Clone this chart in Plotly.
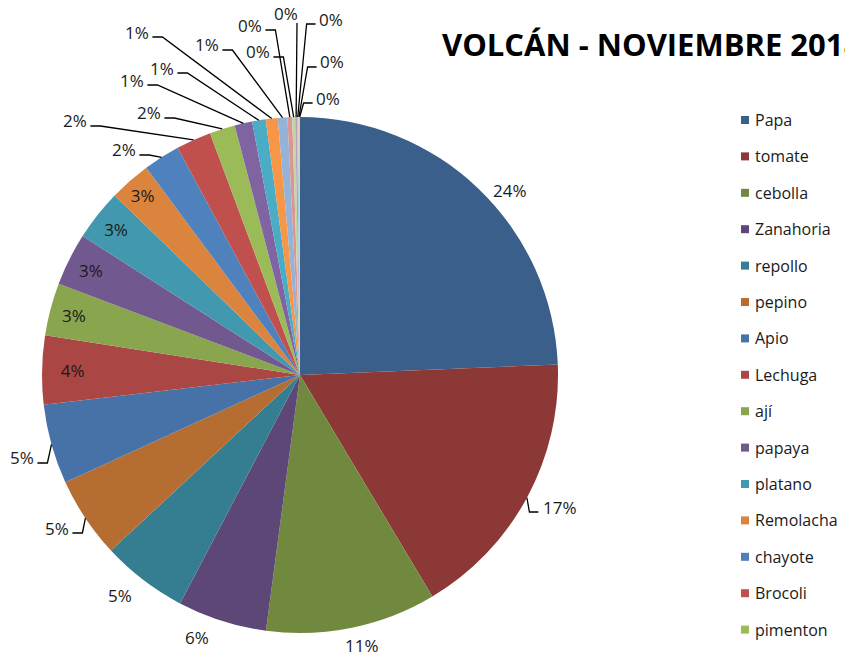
import math
import plotly.graph_objects as go

# Slices in drawing order (clockwise from 12 o'clock), share in percent
labels = ['Papa', 'tomate', 'cebolla', 'Zanahoria', 'repollo', 'pepino',
          'Apio', 'Lechuga', 'ají', 'papaya', 'platano', 'Remolacha',
          'chayote', 'Brocoli', 'pimenton',
          'otro 16', 'otro 17', 'otro 18', 'otro 19', 'otro 20',
          'otro 21', 'otro 22', 'otro 23', 'otro 24', 'otro 25']
values = [24.4, 17.1, 10.7, 5.6, 5.4, 5.1,
          5.0, 4.3, 3.3, 3.3, 3.2, 2.6,
          2.3, 2.2, 1.6,
          1.1, 0.85, 0.75, 0.6, 0.3,
          0.18, 0.12, 0.08, 0.06, 0.04]
legend_count = 15  # only the first 15 entries fit in the legend

# Excel 2007 style palette
colors = ['#3A5F8B', '#8C3836', '#71893F', '#5C4776', '#357D91', '#B66D31',
          '#4672A8', '#AA4643', '#89A54E', '#71588F', '#4198AF', '#DB843D',
          '#4F81BD', '#C0504D', '#9BBB59', '#8064A2', '#4BACC6', '#F79646',
          '#95B3D7', '#D99694', '#C3D69B', '#B3A2C7', '#93CDDD', '#FAC090',
          '#A7C0DE']

W, H = 853, 660
OFF = 8  # page body margin
cx, cy, r = 300, 375, 258
FONT = 'Open Sans'
TXT = '#1a1a1a'
LBL = 17

# outside labels placed by hand (page pixels), with leader side
#  L: label left of slice, R: label right of slice, B: line from below, N: none
callout_pos = {0: (510, 190, 'N'), 1: (560, 507, 'R'), 2: (362, 645, 'N'),
               3: (197, 637, 'N'), 4: (120, 595, 'N'), 5: (57, 528, 'L'),
               6: (22, 458, 'L'),
               12: (124, 150, 'L'), 13: (75, 121, 'L'), 14: (149, 113, 'L'),
               15: (132, 80, 'L'), 16: (162, 68, 'L'), 17: (137, 32, 'L'),
               18: (207, 45, 'L'), 19: (250, 25, 'L'), 20: (258, 52, 'L'),
               21: (286, 14, 'B'), 22: (331, 19, 'R'), 23: (332, 62, 'R'),
               24: (328, 98, 'R')}


def fx(x):
    return (x - OFF) / W


def fy(y):
    return 1 - (y - OFF) / H


n = len(values)
text_pos = ['none' if i in callout_pos else 'inside' for i in range(n)]
templates = ['' if i in callout_pos else '%{percent:.0%}' for i in range(n)]

fig = go.Figure()

fig.add_trace(go.Pie(
    labels=labels,
    values=values,
    sort=False,
    direction='clockwise',
    rotation=0,
    marker=dict(colors=colors, line=dict(width=0)),
    texttemplate=templates,
    textposition=text_pos,
    insidetextorientation='horizontal',
    textfont=dict(family=FONT, size=LBL, color=TXT),
    domain=dict(x=[fx(cx - r), fx(cx + r)], y=[fy(cy + r), fy(cy - r)]),
    showlegend=False,
    hovertemplate='%{label}<br>%{percent}<extra></extra>'
))

# callout labels + leader lines
total = sum(values)
cum = 0
for i, v in enumerate(values):
    mid = (cum + v / 2) / total * 2 * math.pi
    cum += v
    if i not in callout_pos:
        continue
    lx, ly, side = callout_pos[i]
    tx = cx + r * math.sin(mid)
    ty = cy - r * math.cos(mid)
    pct = '%d%%' % round(100 * v / total)
    hw = 6.2 * len(pct)
    fig.add_annotation(text=pct, x=fx(lx), y=fy(ly), xref='paper', yref='paper',
                       showarrow=False, xanchor='center', yanchor='middle',
                       font=dict(family=FONT, size=LBL, color=TXT))
    if side == 'N':
        continue
    if side == 'L':
        p0 = (lx + hw + 3, ly + 5)
        p1 = (lx + hw + 13, ly + 5)
    elif side == 'R':
        p0 = (lx - hw - 3, ly + 5)
        p1 = (lx - hw - 12, ly + 5)
    else:
        p0 = (lx + 11, ly + 9)
        p1 = p0
    path = 'M %f %f L %f %f L %f %f' % (
        fx(p0[0]), fy(p0[1]), fx(p1[0]), fy(p1[1]), fx(tx), fy(ty))
    fig.add_shape(type='path', path=path, xref='paper', yref='paper',
                  line=dict(color='#000000', width=1.3))

# legend (first 15 slices), drawn as swatches + text
for i, (name, c) in enumerate(zip(labels[:legend_count], colors[:legend_count])):
    yc = 120 + i * 36.4
    fig.add_shape(type='rect', xref='paper', yref='paper',
                  x0=fx(741), x1=fx(749), y0=fy(yc + 4), y1=fy(yc - 4),
                  fillcolor=c, line=dict(width=0))
    fig.add_annotation(text=name, xref='paper', yref='paper',
                       x=fx(753), y=fy(yc), xanchor='left', yanchor='middle',
                       showarrow=False,
                       font=dict(family=FONT, size=16, color=TXT))

fig.add_annotation(
    text='<b>VOLCÁN - NOVIEMBRE 2018</b>',
    xref='paper', yref='paper',
    x=fx(440), y=fy(44),
    xanchor='left', yanchor='middle',
    showarrow=False,
    font=dict(family=FONT, size=31, color='#000000')
)

fig.update_layout(
    width=W, height=H,
    margin=dict(l=0, r=0, t=0, b=0),
    paper_bgcolor='white',
    plot_bgcolor='white',
    showlegend=False
)

fig.write_html("out.html")
